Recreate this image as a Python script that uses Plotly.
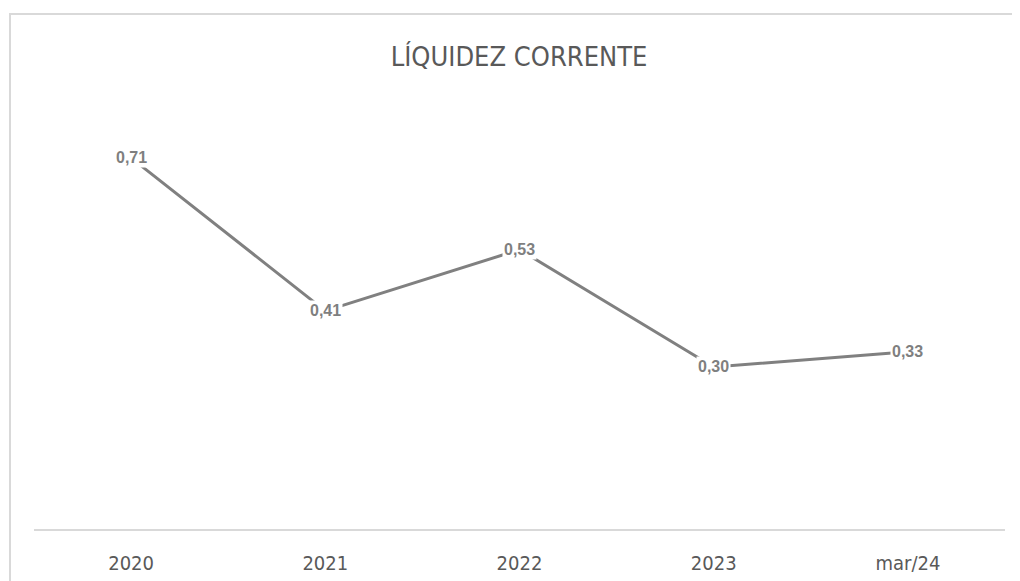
import plotly.graph_objects as go

categories = ["2020", "2021", "2022", "2023", "mar/24"]
values = [0.71, 0.41, 0.53, 0.30, 0.33]
labels = ["0,71", "0,41", "0,53", "0,30", "0,33"]
title_text = "LÍQUIDEZ CORRENTE"

# page body has an 8px margin; figure sized to fit the window exactly
OFF = 8
W, H = 1020 - OFF, 581 - OFF
ml = 34 - OFF
mt = 61 - OFF
plot_right = 1005 - OFF
plot_bottom = 529 - OFF
mr = W - plot_right
mb = H - plot_bottom
pw, ph = W - ml - mr, H - mt - mb
xpos = list(range(len(categories)))

NARROW = "DejaVu Sans Condensed, Liberation Sans Narrow, Roboto Condensed, sans-serif"


def px_to_paper_x(px):
    return (px - OFF - ml) / pw


def px_to_paper_y(py):
    return (plot_bottom - (py - OFF)) / ph


fig = go.Figure()
fig.add_trace(go.Scatter(
    x=xpos, y=values, mode="lines",
    line=dict(color="#808080", width=3),
    hoverinfo="skip", showlegend=False,
))

for xi, v, t in zip(xpos, values, labels):
    fig.add_annotation(
        x=xi, y=v, text=t, showarrow=False,
        bgcolor="white", borderpad=1,
        font=dict(family="Liberation Sans", size=16, color="#7f7f7f", weight="bold"),
        xanchor="center", yanchor="middle",
    )

# outer chart border
fig.add_shape(
    type="rect", xref="paper", yref="paper",
    x0=px_to_paper_x(10), x1=px_to_paper_x(1040),
    y0=px_to_paper_y(620), y1=px_to_paper_y(14),
    line=dict(color="#d9d9d9", width=2), fillcolor="rgba(0,0,0,0)", layer="below",
)

fig.update_layout(
    width=W, height=H,
    margin=dict(l=ml, r=mr, t=mt, b=mb, autoexpand=False),
    paper_bgcolor="white", plot_bgcolor="white",
    title=dict(
        text=title_text, xref="container", yref="container",
        x=(519 - OFF) / W, y=1 - (57 - OFF) / H, xanchor="center", yanchor="middle",
        font=dict(family=NARROW, size=27, color="#595959"),
    ),
    xaxis=dict(
        range=[-0.5, len(categories) - 0.5],
        tickmode="array", tickvals=xpos, ticktext=categories,
        showgrid=False, zeroline=False, automargin=False,
        showline=True, linecolor="#d9d9d9", linewidth=2,
        ticks="outside", ticklen=15, tickcolor="rgba(0,0,0,0)",
        tickfont=dict(family=NARROW, size=20, color="#595959"),
    ),
    yaxis=dict(
        range=[-0.0178, 0.900], showgrid=False, zeroline=False, automargin=False,
        showticklabels=False, showline=False,
    ),
)

fig.write_html("out.html")
